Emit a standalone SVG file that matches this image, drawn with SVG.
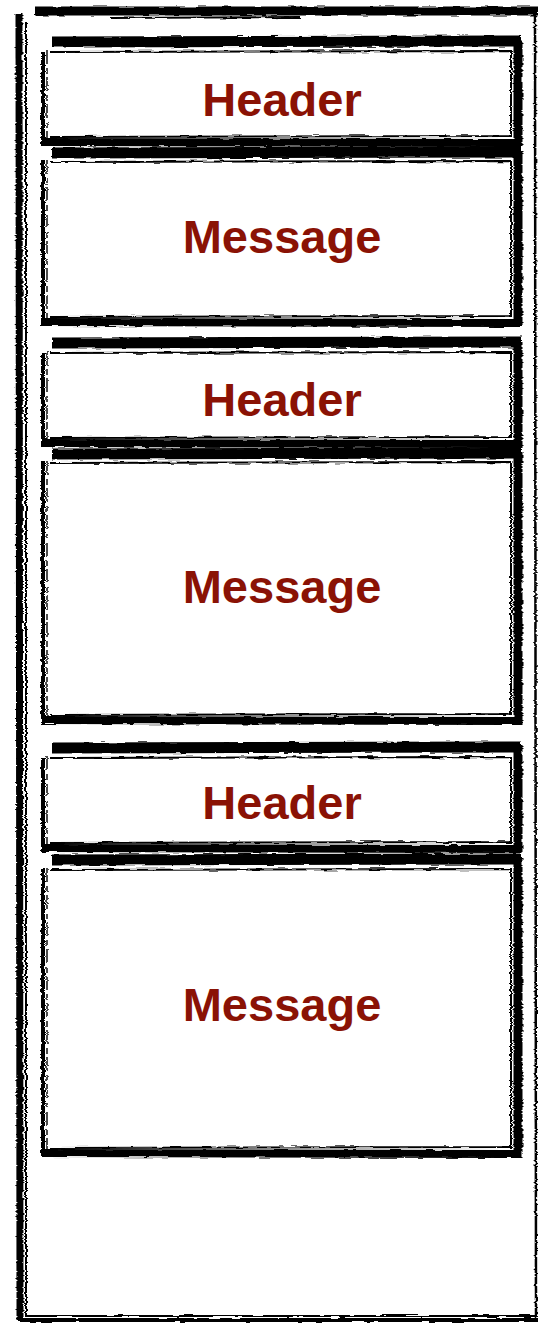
<svg xmlns="http://www.w3.org/2000/svg" width="538" height="1325" viewBox="0 0 538 1325">
<style>
.b{fill:none;stroke:#000;stroke-linecap:butt;stroke-linejoin:miter}
.t{stroke-width:11}
.r{stroke-width:9}
.bt{stroke-width:8}
.l{stroke-width:4}
.in{fill:none;stroke:#000;stroke-width:2}
.dash{fill:none;stroke:#000;stroke-width:1.4;stroke-dasharray:14 4 6 3}
.lab{font-family:"Liberation Sans",Arial,sans-serif;font-weight:bold;font-size:47px;fill:#8a1205;text-anchor:middle}
</style>
<defs>
<filter id="rough" x="-5%" y="-5%" width="110%" height="110%">
<feTurbulence type="fractalNoise" baseFrequency="0.06 0.45" numOctaves="2" seed="3" result="n"/>
<feDisplacementMap in="SourceGraphic" in2="n" scale="3.5" xChannelSelector="R" yChannelSelector="G"/>
</filter>
</defs>
<rect width="538" height="1325" fill="#fff"/>
<g id="container">
<g filter="url(#rough)">
<path class="b" d="M35 11 L538 11" stroke-width="9"/>
<path class="b" d="M110 18 L300 17" stroke-width="2"/>
<path class="b" d="M19 14 L20 1321" stroke-width="7"/>
<path class="in" d="M26 22 L26 1316 L538 1316"/>
<path class="b" d="M20 1320 L538 1320" stroke-width="4"/>
<path class="b" d="M535 10 L536 1320" stroke-width="2.5"/>
</g>
</g>
<g id="header1">
<g filter="url(#rough)">
<path class="b t" d="M52 42 L521 41"/>
<path class="b r" d="M518 40 L518 146"/>
<path class="b bt" d="M42 142 L521 143"/>
<path class="b l" d="M43 52 L43 146"/>
<path class="in" d="M50 52 L511 51 L511 136 L50 137"/>
<path class="dash" d="M47 50 L47 138"/>
</g>
<text class="lab" x="282" y="116">Header</text>
</g>
<g id="message1">
<g filter="url(#rough)">
<path class="b t" d="M52 153 L521 152"/>
<path class="b r" d="M518 151 L518 326"/>
<path class="b bt" d="M42 322 L521 323"/>
<path class="b l" d="M43 160 L43 326"/>
<path class="in" d="M50 162 L511 161 L511 316 L50 317"/>
<path class="dash" d="M47 160 L47 318"/>
</g>
<text class="lab" x="282" y="253">Message</text>
</g>
<g id="header2">
<g filter="url(#rough)">
<path class="b t" d="M52 343 L521 342"/>
<path class="b r" d="M518 341 L518 448"/>
<path class="b bt" d="M42 443 L521 444"/>
<path class="b l" d="M43 353 L43 448"/>
<path class="in" d="M50 353 L511 352 L511 437 L50 438"/>
<path class="dash" d="M47 351 L47 439"/>
</g>
<text class="lab" x="282" y="416">Header</text>
</g>
<g id="message2">
<g filter="url(#rough)">
<path class="b t" d="M52 454 L521 453"/>
<path class="b r" d="M518 452 L518 725"/>
<path class="b bt" d="M42 720 L521 721"/>
<path class="b l" d="M43 461 L43 725"/>
<path class="in" d="M50 463 L511 462 L511 714 L50 715"/>
<path class="dash" d="M47 461 L47 716"/>
</g>
<text class="lab" x="282" y="603">Message</text>
</g>
<g id="header3">
<g filter="url(#rough)">
<path class="b t" d="M52 748 L521 747"/>
<path class="b r" d="M518 746 L518 853"/>
<path class="b bt" d="M42 848 L521 849"/>
<path class="b l" d="M43 758 L43 853"/>
<path class="in" d="M50 758 L511 757 L511 842 L50 843"/>
<path class="dash" d="M47 756 L47 844"/>
</g>
<text class="lab" x="282" y="819">Header</text>
</g>
<g id="message3">
<g filter="url(#rough)">
<path class="b t" d="M52 860 L521 859"/>
<path class="b r" d="M518 858 L518 1158"/>
<path class="b bt" d="M42 1153 L521 1154"/>
<path class="b l" d="M43 868 L43 1158"/>
<path class="in" d="M50 870 L511 869 L511 1147 L50 1148"/>
<path class="dash" d="M47 868 L47 1149"/>
</g>
<text class="lab" x="282" y="1021">Message</text>
</g>
<g id="connectors"/>
</svg>
